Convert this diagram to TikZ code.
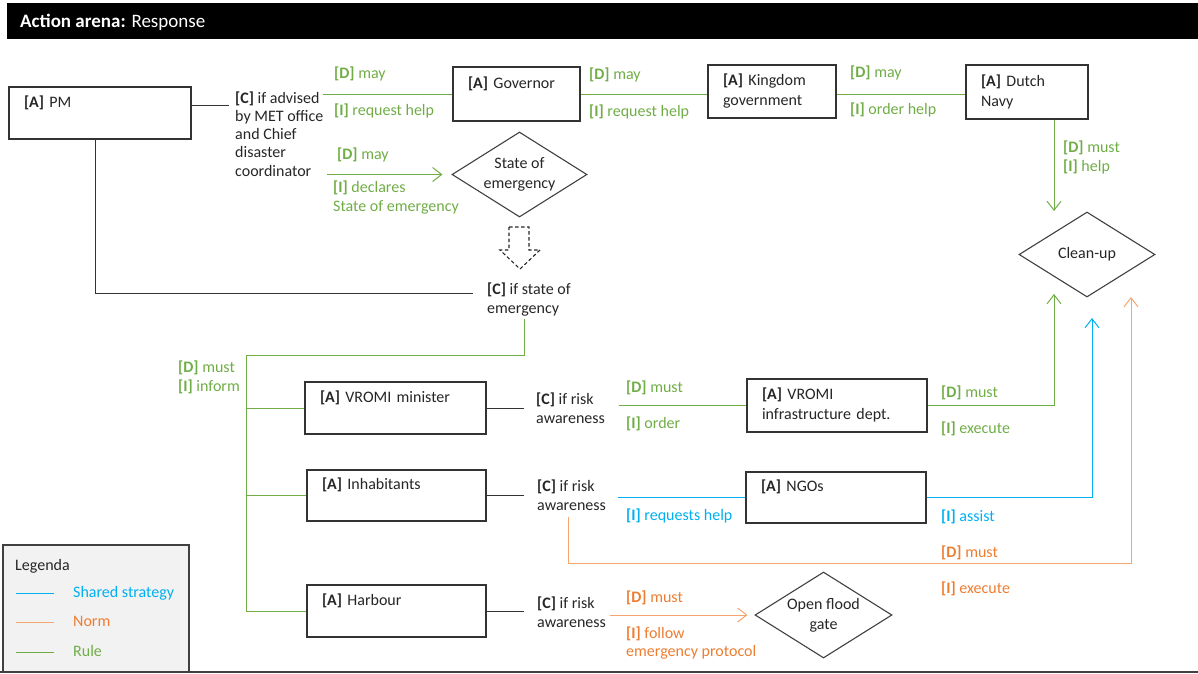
\documentclass[tikz,border=0pt]{standalone}
\usepackage{fontspec}
\setmainfont{Carlito}
\usetikzlibrary{shapes.geometric,arrows.meta}
\definecolor{rulec}{HTML}{70AD47}
\definecolor{stratc}{HTML}{00B0F0}
\definecolor{normc}{HTML}{F4A570}
\definecolor{normt}{HTML}{ED7D31}
\definecolor{txt}{HTML}{262626}
\tikzset{
  box/.style={draw=black!80, line width=1.2pt, fill=white, align=left, inner xsep=15pt, inner ysep=0pt, text=txt},
  dia/.style={diamond, aspect=1.6, draw=black!75, line width=1.1pt, inner sep=0pt, align=center, text=txt},
  lbl/.style={anchor=base west, inner sep=0pt, align=left, font=\fontsize{16}{19}\selectfont},
  gt/.style={lbl, text=rulec},
  bt/.style={lbl, text=stratc},
  ot/.style={lbl, text=normt},
  ct/.style={lbl, text=txt},
  blk/.style={draw=black!80, line width=1pt},
  rl/.style={draw=rulec, line width=1pt},
  st/.style={draw=stratc, line width=1pt},
  nm/.style={draw=normc, line width=1pt},
  arr/.style={-{Straight Barb[length=9pt,width=14pt]}}
}
\begin{document}
\fontsize{16}{20}\selectfont
\begin{tikzpicture}[x=1pt,y=-1pt]
\useasboundingbox (0,0) rectangle (1198,673);
% header
\fill[black] (7,3) rectangle (1198,39);
\node[anchor=base west, inner sep=0pt, text=white, font=\fontsize{19}{22}\selectfont] (title) at (20,27) {\textbf{Action arena:} Response};

% boxes
\node[box, minimum width=182pt, text width=152pt, minimum height=52pt] (pm) at (100,113) {\strut\textbf{[A]} PM\\\strut};
\node[box, minimum width=127pt, text width=97pt, minimum height=54pt] (gov) at (516.5,94) {\strut\textbf{[A]} Governor\\\strut};
\node[box, minimum width=128pt, text width=98pt, minimum height=53pt] (king) at (772,91.5) {\strut\textbf{[A]} Kingdom\\government\strut};
\node[box, minimum width=122pt, text width=92pt, minimum height=54pt] (navy) at (1027,92) {\strut\textbf{[A]} Dutch\\Navy\strut};
\node[box, minimum width=181pt, text width=151pt, minimum height=52pt] (vmin) at (395.5,408) {\strut\textbf{[A]} VROMI minister\\\strut};
\node[box, minimum width=180pt, text width=150pt, minimum height=53pt] (infra) at (837,405.5) {\strut\textbf{[A]} VROMI\\infrastructure dept.\strut};
\node[box, minimum width=179pt, text width=149pt, minimum height=51pt] (inhab) at (396.5,495.5) {\strut\textbf{[A]} Inhabitants\\\strut};
\node[box, minimum width=180pt, text width=150pt, minimum height=51pt] (ngo) at (836,497.5) {\strut\textbf{[A]} NGOs\\\strut};
\node[box, minimum width=179pt, text width=149pt, minimum height=52pt] (harb) at (396.5,611) {\strut\textbf{[A]} Harbour\\\strut};

% diamonds
\node[dia, minimum width=135pt, minimum height=85pt] (soe) at (519.5,174.5) {State of\\emergency};
\node[dia, minimum width=136pt, minimum height=85pt] (clean) at (1087,254.5) {Clean-up};
\node[dia, minimum width=137pt, minimum height=86pt] (flood) at (823.5,615) {Open flood\\gate};

% condition texts (anchor at last baseline)
\node[ct, font=\fontsize{16}{18.3}\selectfont] (cpm) at (235,176.2) {\textbf{[C]} if advised\\by MET office\\and Chief\\disaster\\coordinator};
\node[ct] (cse) at (487,313) {\textbf{[C]} if state of\\emergency};
\node[ct] (cvm) at (536,423) {\textbf{[C]} if risk\\awareness};
\node[ct] (cin) at (537,510) {\textbf{[C]} if risk\\awareness};
\node[ct] (chb) at (537,627) {\textbf{[C]} if risk\\awareness};

% green labels
\node[gt] (l1) at (334,78) {\textbf{[D]} may};
\node[gt] (l2) at (334,115) {\textbf{[I]} request help};
\node[gt] (l3) at (589,79) {\textbf{[D]} may};
\node[gt] (l4) at (589,116) {\textbf{[I]} request help};
\node[gt] (l5) at (850,77) {\textbf{[D]} may};
\node[gt] (l6) at (850,114) {\textbf{[I]} order help};
\node[gt] (l7) at (337,159) {\textbf{[D]} may};
\node[gt] (l8) at (333,211) {\textbf{[I]} declares\\State of emergency};
\node[gt] (l9) at (1063,171) {\textbf{[D]} must\\\textbf{[I]} help};
\node[gt] (l10) at (178,391) {\textbf{[D]} must\\\textbf{[I]} inform};
\node[gt] (l11) at (626,392) {\textbf{[D]} must};
\node[gt] (l12) at (626,428) {\textbf{[I]} order};
\node[gt] (l13) at (941,397) {\textbf{[D]} must};
\node[gt] (l14) at (941,433) {\textbf{[I]} execute};
% blue labels
\node[bt] (l15) at (626,520) {\textbf{[I]} requests help};
\node[bt] (l16) at (941,521) {\textbf{[I]} assist};
% orange labels
\node[ot] (l17) at (941,557) {\textbf{[D]} must};
\node[ot] (l18) at (941,593) {\textbf{[I]} execute};
\node[ot] (l19) at (626,602) {\textbf{[D]} must};
\node[ot, font=\fontsize{16}{18}\selectfont] (l20) at (626,656) {\textbf{[I]} follow\\emergency protocol};

% coordinates
\coordinate (cpmR) at (229,105);
\coordinate (g1) at (323,94);
\coordinate (cuA) at (1054,211);
\coordinate (g2) at (327,174.5);
\coordinate (cse1) at (473,293);
\coordinate (cse2) at (524,319);
\coordinate (bus) at (246,355);
\coordinate (cx) at (524,0);
\coordinate (g3) at (619,405.5);
\coordinate (cuB) at (1054,294);
\coordinate (b1) at (618,497.5);
\coordinate (cuC) at (1092,318);
\coordinate (o1) at (568,517);
\coordinate (o2) at (1131,563);
\coordinate (cuD) at (1131,297);
\coordinate (o3) at (610,615);

% connectors
\draw[blk] (pm.east |- cpmR) -- (cpmR);
\draw[rl] (g1) -- (gov.west);
\draw[rl] (gov.east) -- (king.west |- gov.east);
\draw[rl] (king.east |- gov.east) -- (navy.west |- gov.east);
\draw[rl,arr] (navy.south -| cuA) -- (cuA);
\draw[rl,arr,shorten >=9pt] (g2) -- (soe.west);
\draw[black!85, line width=1.1pt, dash pattern=on 3.5pt off 2.5pt] (509,227) -- (529,227) -- (529,250) -- (540,250) -- (520,269) -- (500,250) -- (509,250) -- cycle;
\draw[blk] ([xshift=-5pt]pm.south) |- (cse1);
\draw[rl] (cse2) |- (bus) -- (bus |- harb.west) -- (harb.west);
\draw[rl] (bus |- vmin.west) -- (vmin.west);
\draw[rl] (bus |- inhab.west) -- (inhab.west);
\draw[blk] (vmin.east) -- (vmin.east -| cx);
\draw[blk] (inhab.east) -- (inhab.east -| cx);
\draw[blk] (harb.east) -- (harb.east -| cx);
\draw[rl] (g3) -- (infra.west);
\draw[rl,arr] (infra.east) -| (cuB);
\draw[st] (b1) -- (ngo.west);
\draw[st,arr] (ngo.east) -| (cuC);
\draw[nm,arr] (o1) |- (o2) -- (cuD);
\draw[nm,arr,shorten >=7pt] (o3) -- (flood.west);

% legend
\draw[black!75, line width=1.2pt, fill=black!5] (3,545) rectangle (189,672);
\node[ct] (leg) at (15,570) {Legenda};
\draw[st] (16,593) -- (54,593);
\draw[nm] (16,622) -- (54,622);
\draw[rl] (16,652) -- (54,652);
\node[bt] (lg1) at (73,597) {Shared strategy};
\node[ot] (lg2) at (73,626) {Norm};
\node[gt] (lg3) at (73,656) {Rule};

% bottom line
\draw[black!75, line width=2pt] (0,672) -- (1198,672);
\end{tikzpicture}
\end{document}
